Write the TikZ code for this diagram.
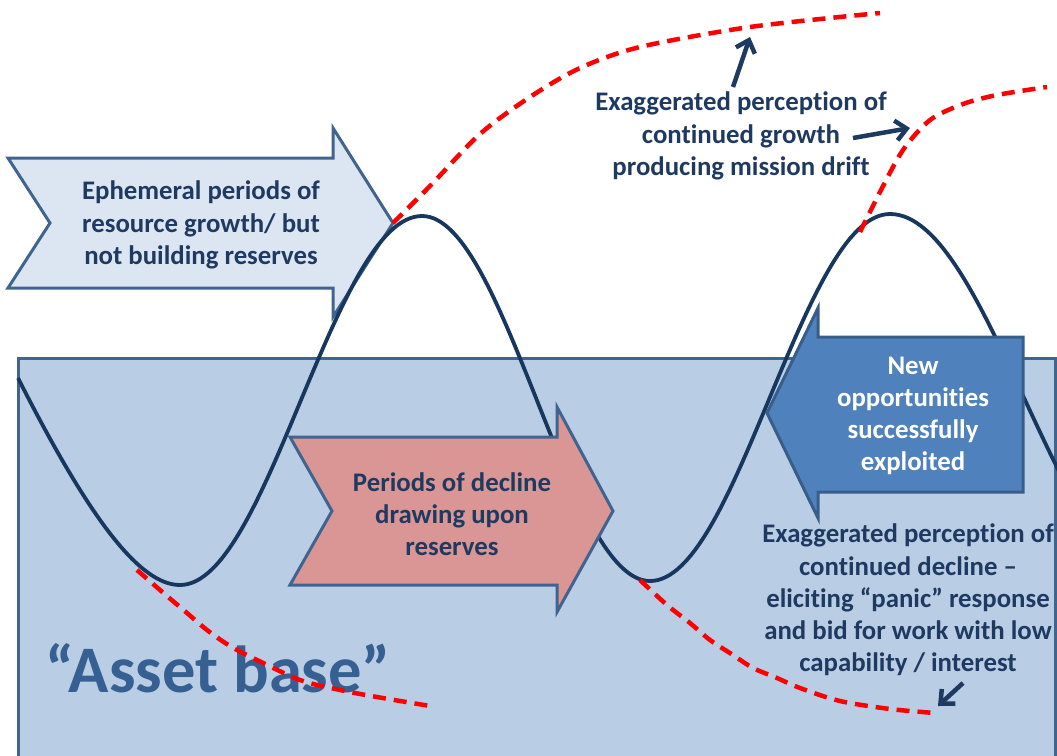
\documentclass[tikz,border=0pt]{standalone}
\usepackage{fontspec}
\setmainfont{Carlito}[Ligatures=NoCommon]
\usetikzlibrary{arrows.meta}
\definecolor{navy}{HTML}{1F3A60}
\definecolor{wavec}{HTML}{17375E}
\definecolor{bordc}{HTML}{41648F}
\definecolor{basefill}{HTML}{B9CDE5}
\definecolor{lightfill}{HTML}{DCE6F2}
\definecolor{pinkfill}{HTML}{D99694}
\definecolor{bluefill}{HTML}{4F81BD}
\definecolor{blueedge}{HTML}{385D8A}
\definecolor{assetc}{HTML}{376092}
\tikzset{
  lbl/.style={text=navy, align=center, font=\fontsize{26.8}{32.2}\selectfont\bfseries, inner sep=0pt},
  shapebox/.style={draw=bordc, line width=3pt, line join=miter},
  wave/.style={draw=wavec, line width=3.8pt},
  reddash/.style={draw=red, line width=4.5pt, dash pattern=on 13pt off 8pt},
  pointer/.style={draw=navy, line width=4.5pt, -{Straight Barb[length=11pt,width=20pt]}}
}
\begin{document}
\begin{tikzpicture}[x=1pt,y=-1pt]
\useasboundingbox (0,0) rectangle (1057,755);
\clip (0,0) rectangle (1057,755);
% asset base rectangle
\draw[bordc, line width=3pt, fill=basefill] (18,358) rectangle (1055,780);
% top-left arrow
\path[shapebox, fill=lightfill] (8,158) -- (333,158) -- (333,128) -- (393,223) -- (333,317) -- (333,288) -- (8,288) -- (50,223) -- cycle;
% wave
\draw[wave] (18,378) .. controls (90,520) and (140,585) .. (180,585)
  cos (301,400) sin (422,216) cos (536,398) sin (650,581)
  cos (770,397) sin (890,214) cos (1025,400) sin (1160,585);
% pink arrow
\path[shapebox, fill=pinkfill] (290,437) -- (557,437) -- (557,407) -- (613,511) -- (557,612) -- (557,585) -- (290,585) -- (332,511) -- cycle;
% blue arrow
\path[draw=blueedge, line width=3pt, fill=bluefill] (767,413) -- (818,308) -- (818,337) -- (1023,337) -- (1023,492) -- (818,492) -- (818,518) -- cycle;
% texts
\node[lbl] (ephem) at (201,225) {Ephemeral periods of\\resource growth/ but\\not building reserves};
\node[lbl] (decl) at (452,514) {Periods of decline\\drawing upon\\reserves};
\node[lbl, text=white] (newopp) at (913,416) {New\\opportunities\\successfully\\exploited};
\node[lbl] (growthtxt) at (741,136) {Exaggerated perception of\\continued growth\\producing mission drift};
\node[lbl] (panic) at (908,600) {Exaggerated perception of\\continued decline –\\eliciting “panic” response\\and bid for work with low\\capability / interest};
\node[text=assetc, font=\fontsize{66.5}{72}\selectfont\bfseries, inner sep=0pt] (asset) at (218,668) {“Asset base”};
% red dashed perception curves
\draw[reddash] plot[smooth] coordinates {(393,223) (430,186) (480,134) (530,97) (580,68) (640,47) (750,27) (880,13)};
\draw[reddash] plot[smooth] coordinates {(860,232) (880,192) (903,150) (930,120) (963,104) (997,95) (1047,87)};
\draw[reddash] plot[smooth] coordinates {(137,570) (160,590) (187,613) (207,630) (230,646) (257,660) (300,680) (340,690) (377,697) (430,706)};
\draw[reddash] plot[smooth] coordinates {(640,580) (667,605) (690,623) (710,640) (733,655) (753,668) (777,678) (800,688) (840,701) (890,709) (935,713)};
% pointers
\coordinate (p1s) at (733,87); \coordinate (p1e) at (750,37);
\coordinate (p2s) at (853,138); \coordinate (p2e) at (910,128);
\coordinate (p3s) at (963,683); \coordinate (p3e) at (938,706);
\draw[pointer] (p1s) -- (p1e);
\draw[pointer] (p2s) -- (p2e);
\draw[pointer] (p3s) -- (p3e);
\end{tikzpicture}
\end{document}
